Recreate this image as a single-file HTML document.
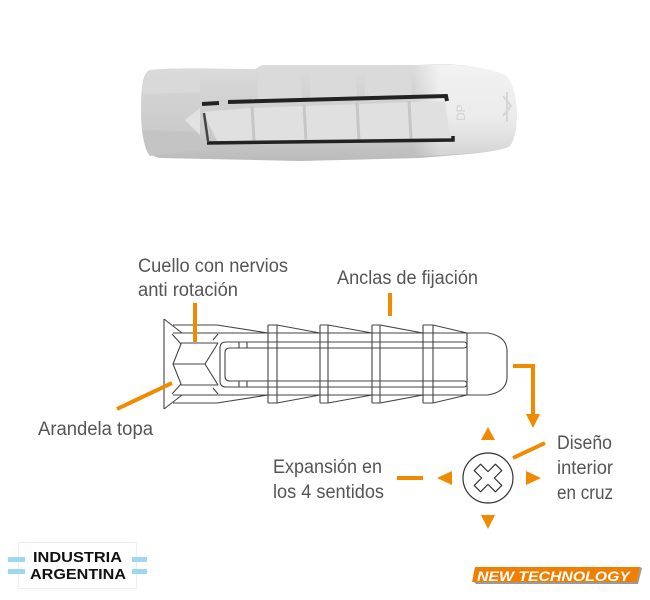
<!DOCTYPE html>
<html>
<head>
<meta charset="utf-8">
<style>
  html,body{margin:0;padding:0;background:#fff;}
  body{width:650px;height:600px;overflow:hidden;}
  svg{display:block;}
  .lbl{font-family:"Liberation Sans",sans-serif;font-size:19px;fill:#555;}
</style>
</head>
<body>
<svg width="650" height="600" viewBox="0 0 650 600" xmlns="http://www.w3.org/2000/svg">
  <defs>
    <linearGradient id="bodyG" x1="0" y1="0" x2="0" y2="1">
      <stop offset="0" stop-color="#dcdcdc"/>
      <stop offset="0.3" stop-color="#d3d3d3"/>
      <stop offset="0.7" stop-color="#cbcbcb"/>
      <stop offset="1" stop-color="#bbbbbb"/>
    </linearGradient>
    <linearGradient id="headG" x1="0" y1="0" x2="0" y2="1">
      <stop offset="0" stop-color="#f2f2f2"/>
      <stop offset="0.6" stop-color="#ebebeb"/>
      <stop offset="1" stop-color="#d4d4d4"/>
    </linearGradient>
    <linearGradient id="headFade" x1="413" y1="0" x2="440" y2="0" gradientUnits="userSpaceOnUse">
      <stop offset="0" stop-color="#fff" stop-opacity="0"/>
      <stop offset="1" stop-color="#fff" stop-opacity="1"/>
    </linearGradient>
    <mask id="headMask">
      <rect x="400" y="50" width="130" height="120" fill="url(#headFade)"/>
    </mask>
  </defs>

  <!-- ===== PHOTO OF DOWEL ===== -->
  <path d="M150,70 C170,67 230,69 255,69 L262,65 L420,65 C450,62 480,66 505,75 C518,85 521,130 510,146 C500,152 470,154 420,158 L300,161 L160,158 C146,156 141,140 141,112 C141,85 143,72 150,70Z" fill="url(#bodyG)"/>
  <!-- left facets -->
  <path d="M143,80 L200,78 L200,92 L143,94Z" fill="#d9d9d9"/>
  <path d="M143,130 L200,132 L200,150 L150,156 C145,150 143,140 143,130Z" fill="#c4c4c4"/>
  <path d="M185,120 L200,108 L200,135Z" fill="#e2e2e2"/>
  <!-- upper rib blocks -->
  <path d="M258,70 L300,68 L302,98 L258,100Z" fill="#dadada"/>
  <path d="M310,68 L355,67 L357,97 L310,99Z" fill="#dadada"/>
  <path d="M365,67 L410,66 L412,96 L365,97Z" fill="#dadada"/>
  <!-- head -->
  <g mask="url(#headMask)">
    <path d="M400,66 C450,62 485,66 505,75 C518,85 521,130 510,146 C500,152 470,154 400,157 Z" fill="url(#headG)"/>
  </g>
  <path d="M503,96 L511,106 L503,116 M507,92 L507,122" stroke="#d6d6d6" stroke-width="2" fill="none"/>
  <text x="462" y="112" font-family="Liberation Sans,sans-serif" font-size="12" fill="#d2d2d2" transform="rotate(-90 468 115)">DP</text>
  <!-- flap -->
  <path d="M203,112 L250,108 L445,101 L450,138 L217,141Z" fill="#e0e0e0"/>
  <path d="M252,106 L254,141 M304,104 L306,141 M357,103 L359,141 M409,101 L411,140" stroke="#c6c6c6" stroke-width="3" fill="none"/>
  <!-- dark slot lines -->
  <path d="M202,104 L219,103" stroke="#222" stroke-width="4" fill="none"/>
  <path d="M228,102 L446,96 L447,101" stroke="#222" stroke-width="4" fill="none"/>
  <path d="M204,113 L208,141" stroke="#444" stroke-width="2.5" fill="none"/>
  <path d="M207,143 L453,140 L453,136" stroke="#222" stroke-width="3.5" fill="none"/>

  <!-- ===== SCHEMATIC ===== -->
  <g stroke="#444" stroke-width="1.1" fill="none">
    <path d="M164,319 V409 M164,319 L182,333 M164,409 L182,395"/>
    <path d="M173,325 H217 L268,333 M173,403 H217 L268,395"/>
    <path d="M277,325 L320,333 M328,325 L372,333 M380,325 L423,333 M433,325 L467,333"/>
    <path d="M277,403 L320,395 M328,403 L372,395 M380,403 L423,395 M433,403 L467,395"/>
    <path d="M268,325 V403 M277,325 V403 M268,325 H277 M268,403 H277"/>
    <path d="M320,325 V403 M328,325 V403 M320,325 H328 M320,403 H328"/>
    <path d="M372,325 V403 M380,325 V403 M372,325 H380 M372,403 H380"/>
    <path d="M423,325 V403 M433,325 V403 M423,325 H433 M423,403 H433"/>
    <path d="M173,333 H467 M173,395 H467"/>
    <path d="M172,334 L181,344 L173,364 L181,384 L172,394"/>
    <path d="M181,343 H218 M173,364 H205 M181,385 H218"/>
    <path d="M218,343 L205,364 L218,385"/>
    <path d="M218,334 L213,340 M218,394 L213,388"/>
    <path d="M464,342 H226 Q220,342 220,348 V381 Q220,387 226,387 H464 A3,3 0 0 0 464,381 H230 Q225,381 225,376 V353 Q225,348 230,348 H464 A3,3 0 0 0 464,342"/>
    <path d="M239,342 V348 M247,342 V348 M239,381 V387 M247,381 V387"/>
    <path d="M467,333 V395 M467,333 H488 Q506,336 507,350 V378 Q506,392 488,395 H467"/>
  </g>

  <!-- orange callouts -->
  <g stroke="#F08A00" stroke-width="4" fill="none">
    <path d="M195,303 V342"/>
    <path d="M390,293 V316"/>
    <path d="M117,409 L172,383"/>
    <path d="M513,366 H533 V418"/>
    <path d="M513,458 L545,443"/>
    <path d="M397,478 H423"/>
  </g>
  <g fill="#F08A00">
    <polygon points="526,414 540,414 533,428"/>
    <polygon points="481,440 495,440 488,427"/>
    <polygon points="452,471 452,485 437,478"/>
    <polygon points="526,471 526,485 541,478"/>
    <polygon points="481,515 495,515 488,529"/>
  </g>

  <!-- cross circle -->
  <circle cx="488" cy="478" r="25" fill="#fff" stroke="#333" stroke-width="1.2"/>
  <polygon transform="translate(488,478) rotate(45)" points="-4.5,-15 4.5,-15 4.5,-4.5 15,-4.5 15,4.5 4.5,4.5 4.5,15 -4.5,15 -4.5,4.5 -15,4.5 -15,-4.5 -4.5,-4.5" fill="#fff" stroke="#333" stroke-width="1.2" stroke-linejoin="round"/>

  <!-- labels -->
  <text class="lbl" x="138" y="272" textLength="150" lengthAdjust="spacingAndGlyphs">Cuello con nervios</text>
  <text class="lbl" x="138" y="296" textLength="100" lengthAdjust="spacingAndGlyphs">anti rotación</text>
  <text class="lbl" x="337" y="284" textLength="141" lengthAdjust="spacingAndGlyphs">Anclas de fijación</text>
  <text class="lbl" x="38" y="435" textLength="115" lengthAdjust="spacingAndGlyphs">Arandela topa</text>
  <text class="lbl" x="273" y="473" textLength="109" lengthAdjust="spacingAndGlyphs">Expansión en</text>
  <text class="lbl" x="273" y="498" textLength="111" lengthAdjust="spacingAndGlyphs">los 4 sentidos</text>
  <text class="lbl" x="557" y="449" textLength="55" lengthAdjust="spacingAndGlyphs">Diseño</text>
  <text class="lbl" x="557" y="474" textLength="56" lengthAdjust="spacingAndGlyphs">interior</text>
  <text class="lbl" x="557" y="499" textLength="56" lengthAdjust="spacingAndGlyphs">en cruz</text>

  <!-- INDUSTRIA ARGENTINA -->
  <rect x="18.5" y="542.5" width="118" height="46" fill="#fff" stroke="#eeeeee" stroke-width="1"/>
  <g fill="#9fd6f1">
    <rect x="8" y="557" width="17" height="5"/>
    <rect x="8" y="569" width="17" height="5"/>
    <rect x="132" y="557" width="15" height="5"/>
    <rect x="132" y="569" width="15" height="5"/>
  </g>
  <text x="33" y="562" font-family="Liberation Sans,sans-serif" font-weight="bold" font-size="15" fill="#111" textLength="89" lengthAdjust="spacingAndGlyphs">INDUSTRIA</text>
  <text x="30" y="579" font-family="Liberation Sans,sans-serif" font-weight="bold" font-size="15" fill="#111" textLength="96" lengthAdjust="spacingAndGlyphs">ARGENTINA</text>

  <!-- NEW TECHNOLOGY badge -->
  <polygon points="476,584 638,584 642,568 640,567 637,582 474,582" fill="#9a9a9a"/>
  <polygon points="475,567 640,567 637,582 472,582" fill="#F07E00"/>
  <text x="477" y="581" font-family="Liberation Sans,sans-serif" font-weight="bold" font-style="italic" font-size="14" fill="#fff" textLength="153" lengthAdjust="spacingAndGlyphs">NEW TECHNOLOGY</text>
</svg>
</body>
</html>
